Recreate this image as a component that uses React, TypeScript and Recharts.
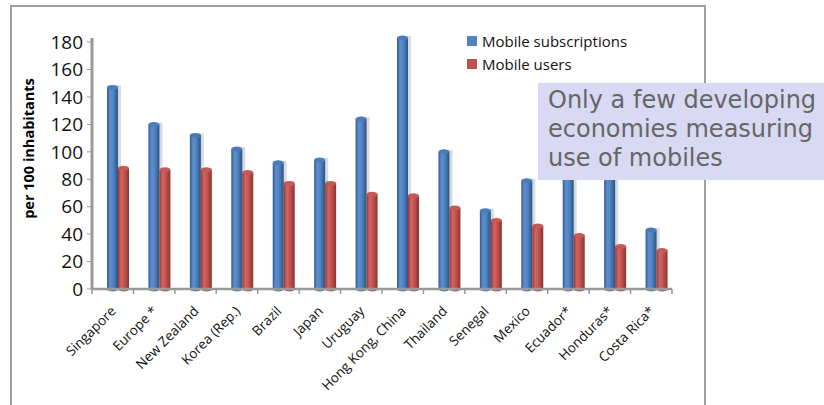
import React from 'react';
import { BarChart, Bar, XAxis, YAxis } from 'recharts';

// economies and values (per 100 inhabitants)
const economies = [
  'Singapore', 'Europe *', 'New Zealand', 'Korea (Rep.)', 'Brazil', 'Japan', 'Uruguay',
  'Hong Kong, China', 'Thailand', 'Senegal', 'Mexico', 'Ecuador*', 'Honduras*', 'Costa Rica*',
];
const subscriptions = [147, 120, 112, 102, 92, 94, 124, 183, 100, 57, 79, 90, 98, 43];
const users = [88, 87, 87, 85, 77, 77, 69, 68, 59, 50, 46, 39, 31, 28];
const yTicks = [0, 20, 40, 60, 80, 100, 120, 140, 160, 180];

const seriesNames = ['Mobile subscriptions', 'Mobile users'];
const seriesColors = ['#4F81BD', '#C0504D'];

const data = economies.map((name, i) => ({
  name,
  subs: subscriptions[i],
  users: users[i],
}));

const FONT = '"Open Sans", "Liberation Sans", sans-serif';

// cylinder-ish bar like the old Excel 3D column
const Cylinder = (props: any) => {
  const { x, y, width, height, gradId, top, shadow } = props;
  if (height == null || height <= 0) return null;
  const dx = 5;
  const cx = x + dx + width / 2;
  const ry = 2.5;
  return (
    <g>
      {shadow && (
        <rect x={x + dx + width - 1} y={y - 2} width={4} height={height} fill="#c4cad4" opacity={0.7} />
      )}
      <rect x={x + dx} y={y} width={width} height={height} fill={`url(#${gradId})`} />
      <ellipse cx={cx} cy={y + height} rx={width / 2} ry={ry} fill={`url(#${gradId})`} />
      <ellipse cx={cx} cy={y} rx={width / 2} ry={ry} fill={top} />
    </g>
  );
};

const CategoryTick = (props: any) => {
  const { x, y, payload, index, visibleTicksCount } = props;
  const off = payload && payload.offset ? payload.offset : 580 / 28;
  const tx = x + 4;
  const ty = y + 23;
  return (
    <g>
      <line x1={x - off} y1={y} x2={x - off} y2={y + 5} stroke="#999" strokeWidth={1.5} />
      {index === visibleTicksCount - 1 && (
        <line x1={x + off} y1={y} x2={x + off} y2={y + 5} stroke="#999" strokeWidth={1.5} />
      )}
      <text
        x={tx}
        y={ty}
        textAnchor="end"
        transform={`rotate(-45, ${tx}, ${ty})`}
        fontSize={13.5}
        fontFamily={FONT}
        fill="#111"
      >
        {payload.value}
      </text>
    </g>
  );
};

const LegendBox = () => (
  <div style={{ position: 'absolute', left: 467, top: 29, fontFamily: FONT, fontSize: 15, color: '#111' }}>
    {seriesNames.map((n, i) => (
      <div key={n} style={{ display: 'flex', alignItems: 'center', height: 23 }}>
        <span style={{ display: 'inline-block', width: 10, height: 10, background: seriesColors[i], marginRight: 5 }} />
        {n}
      </div>
    ))}
  </div>
);

export default function App() {
  return (
    <div style={{ position: 'absolute', left: 0, top: 0, width: 824, height: 405, overflow: 'hidden', background: '#fff' }}>
      {/* chart frame */}
      <div style={{ position: 'absolute', left: 10, top: 5, width: 692, height: 430, border: '2px solid #a0a0a0' }} />

      <div style={{ position: 'absolute', left: 0, top: 0 }}>
        <BarChart
          width={824}
          height={405}
          data={data}
          margin={{ top: 38, right: 152, left: 12, bottom: 0 }}
          barSize={11}
          barGap={0}
        >
          <defs>
            <linearGradient id="gBlue" x1="0" y1="0" x2="1" y2="0">
              <stop offset="0%" stopColor="#335d93" />
              <stop offset="30%" stopColor="#5e90d2" />
              <stop offset="60%" stopColor="#4f81bd" />
              <stop offset="100%" stopColor="#2c5282" />
            </linearGradient>
            <linearGradient id="gRed" x1="0" y1="0" x2="1" y2="0">
              <stop offset="0%" stopColor="#96393a" />
              <stop offset="30%" stopColor="#d66562" />
              <stop offset="60%" stopColor="#c0504d" />
              <stop offset="100%" stopColor="#8a3533" />
            </linearGradient>
          </defs>
          <XAxis
            dataKey="name"
            interval={0}
            height={116}
            tickSize={0}
            tickMargin={0}
            axisLine={{ stroke: '#999', strokeWidth: 2.5 }}
            tick={<CategoryTick />}
          />
          <YAxis
            width={80}
            domain={[0, 'dataMax']}
            ticks={yTicks}
            interval={0}
            tickSize={5}
            tickMargin={4}
            axisLine={{ stroke: '#999', strokeWidth: 3 }}
            tickLine={{ stroke: '#999' }}
            tick={{ fill: '#111', fontSize: 19, fontFamily: FONT }}
            label={{
              value: 'per 100 inhabitants',
              angle: -90,
              position: 'center',
              dx: -23,
              dy: -15,
              style: { fontFamily: FONT, fontSize: 14.5, fontWeight: 700, fill: '#000' },
            }}
          />
          <Bar
            dataKey="subs"
            name={seriesNames[0]}
            isAnimationActive={false}
            shape={<Cylinder gradId="gBlue" top="#4a7cbb" shadow />}
          />
          <Bar
            dataKey="users"
            name={seriesNames[1]}
            isAnimationActive={false}
            shape={<Cylinder gradId="gRed" top="#c45a57" />}
          />
        </BarChart>
      </div>

      <LegendBox />

      {/* callout box */}
      <div
        style={{
          position: 'absolute',
          left: 538,
          top: 83,
          width: 286,
          height: 97,
          boxSizing: 'border-box',
          background: '#d9d9f3',
          color: '#666',
          fontFamily: '"DejaVu Sans", Verdana, sans-serif',
          fontSize: 24,
          lineHeight: '29px',
          padding: '3px 0 0 10px',
          whiteSpace: 'nowrap',
        }}
      >
        Only a few developing
        <br />
        economies measuring
        <br />
        use of mobiles
      </div>
    </div>
  );
}
